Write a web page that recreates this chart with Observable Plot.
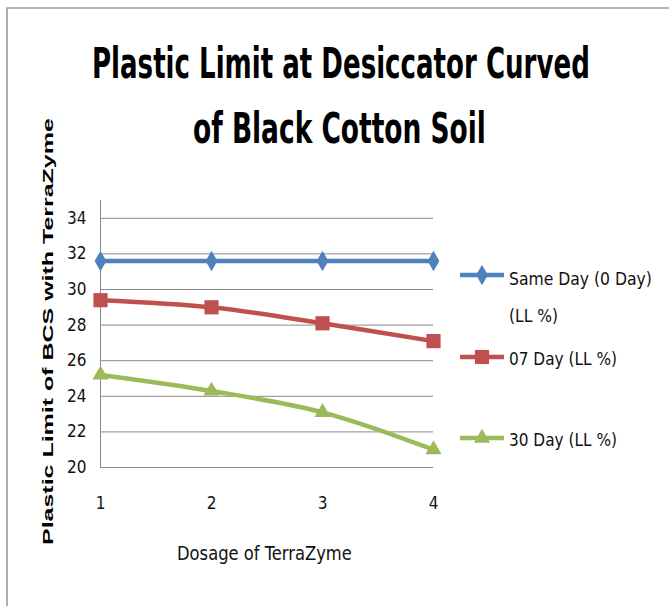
<!DOCTYPE html>
<html><head><meta charset="utf-8">
<script src="https://cdn.jsdelivr.net/npm/d3@7"></script>
<script src="https://cdn.jsdelivr.net/npm/@observablehq/plot@0.6"></script>
<style>
body{margin:0;background:#fff;}
#wrap{position:relative;width:669px;height:606px;overflow:hidden;background:#fff;}
#wrap svg{position:absolute;left:0;top:0;}
</style></head><body><div id="wrap"></div>
<script>
const dosage = [1, 2, 3, 4];
const sameDay = [31.6, 31.6, 31.6, 31.6];
const day07 = [29.4, 29.0, 28.1, 27.1];
const day30 = [25.2, 24.3, 23.1, 21.0];
const seriesNames = ["Same Day (0 Day) (LL %)", "07 Day (LL %)", "30 Day (LL %)"];
const yTicks = [20, 22, 24, 26, 28, 30, 32, 34];
const xTicks = [1, 2, 3, 4];
const titleLines = ["Plastic Limit at Desiccator Curved", "of Black Cotton Soil"];
const yLabel = "Plastic Limit of BCS with TerraZyme";
const xLabel = "Dosage of TerraZyme";
const colors = ["#4F81BD", "#C0504D", "#9BBB59"];

const FONT = "'Liberation Sans Narrow','DejaVu Sans Condensed','Liberation Sans',sans-serif";
const rows = [];
[sameDay, day07, day30].forEach((vals, i) => vals.forEach((v, j) => rows.push({x: dosage[j], y: v, s: seriesNames[i]})));

const chart = Plot.plot({
  width: 669, height: 606,
  marginLeft: 100, marginRight: 236, marginTop: 200, marginBottom: 139,
  x: {domain: [1, 4]},
  y: {domain: [20, 35]},
  color: {domain: seriesNames, range: colors},
  symbol: {domain: seriesNames, range: ["diamond", "square", "triangle"]},
  style: {fontFamily: FONT, fontSize: "17px", color: "#111", background: "transparent", overflow: "visible"},
  marks: [
    Plot.gridY(yTicks, {stroke: "#8a8a8a", strokeOpacity: 1, strokeWidth: 1}),
    Plot.ruleX([1], {y1: 20, y2: 35, stroke: "#8a8a8a", strokeWidth: 1}),
    Plot.axisY(yTicks, {tickSize: 0, tickPadding: 14, label: null, fontSize: 17}),
    Plot.axisX(xTicks, {tickSize: 0, tickPadding: 29, label: null, fontSize: 17, tickFormat: d => String(d)}),
    Plot.line(rows, {x: "x", y: "y", z: "s", stroke: "s", strokeWidth: 4.5, curve: "catmull-rom"}),
    Plot.dot(rows, {filter: d => d.s === seriesNames[0], x: "x", y: "y", symbol: "s", fill: "s", r: 6.2}),
    Plot.dot(rows, {filter: d => d.s === seriesNames[1], x: "x", y: "y", symbol: "s", fill: "s", r: 8}),
    Plot.dot(rows, {filter: d => d.s === seriesNames[2], x: "x", y: "y", symbol: "s", fill: "s", r: 6})
  ]
});
const wrap = document.getElementById("wrap");
wrap.appendChild(chart);

// Overlay: frame, titles, legend
const ov = d3.select(wrap).append("svg").attr("width", 669).attr("height", 606)
  .style("pointer-events", "none");
ov.append("path").attr("d", "M7,606V8H669").attr("fill", "none").attr("stroke", "#9a9a9a").attr("stroke-width", 1.6);

// Place a text so that it spans `width` px, scaling glyphs horizontally via a transform
function fitText(x, y, str, width, size, opts = {}) {
  const g = ov.append("g");
  const t = g.append("text").attr("x", 0).attr("y", 0).text(str)
    .attr("font-family", opts.family || FONT).attr("font-size", size)
    .attr("font-weight", opts.weight || "normal").attr("fill", opts.fill || "#111");
  const w0 = t.node().getComputedTextLength() || width;
  const sx = width / w0;
  const base = opts.rotate ? `translate(${x},${y}) rotate(${opts.rotate})` : `translate(${x},${y})`;
  g.attr("transform", `${base} scale(${sx},1)`);
  return t;
}
fitText(92, 78, titleLines[0], 498, 43, {weight: "bold", fill: "#000"});
fitText(193, 143, titleLines[1], 293, 43, {weight: "bold", fill: "#000"});
fitText(53, 545, yLabel, 427, 15, {weight: "bold", fill: "#000", family: "'Liberation Sans',Arial,sans-serif", rotate: -90});
fitText(177, 560, xLabel, 175, 20, {fill: "#111"});

// legend
const legendRows = [
  {y: 275, lines: [["Same Day (0 Day)", 143, 285], ["(LL %)", 49, 322]], sym: d3.symbolDiamond, size: 120},
  {y: 357, lines: [["07 Day (LL %)", 108, 365]], sym: d3.symbolSquare, size: 200},
  {y: 438, lines: [["30 Day (LL %)", 108, 446]], sym: d3.symbolTriangle, size: 113}
];
legendRows.forEach((r, i) => {
  ov.append("line").attr("x1", 460).attr("x2", 504).attr("y1", r.y).attr("y2", r.y)
    .attr("stroke", colors[i]).attr("stroke-width", 4.5);
  ov.append("path").attr("d", d3.symbol(r.sym, r.size)()).attr("transform", `translate(482,${r.y})`).attr("fill", colors[i]);
  r.lines.forEach(([s, w, by]) => fitText(509, by, s, w, 18, {fill: "#111"}));
});
</script></body></html>
